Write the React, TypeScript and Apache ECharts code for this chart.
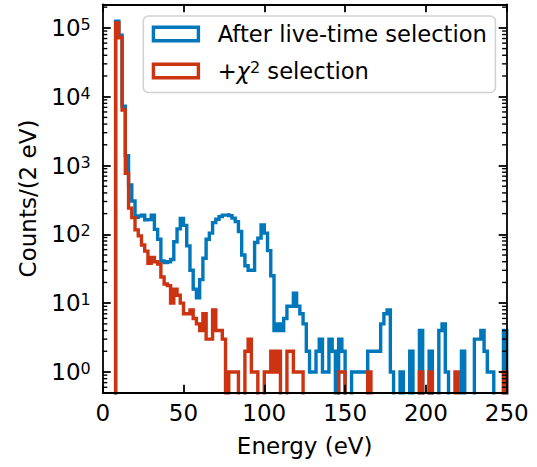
import React, { useEffect, useRef } from "react";
import * as echarts from "echarts";

// ---- data ----
const BIN_START = 0; // eV
const BIN_WIDTH = 2; // eV
const X_MIN = 0;
const X_MAX = 250;
const X_INTERVAL = 50;
const Y_MIN = 0.5;
const Y_MAX = 2.2e5;

const SERIES_NAMES = ["After live-time selection", "+χ² selection"];
const X_LABEL = "Energy (eV)";
const Y_LABEL = "Counts/(2 eV)";

// counts per 2 eV bin, bins starting at 0 eV
const liveTimeCounts = [
  0, 0, 0, 0, 125000, 78000, 7300, 1390, 520, 305,
  177, 185, 190, 163, 165, 190, 118, 85, 41, 39,
  40, 43, 78, 120, 170, 135, 68, 30, 16, 12,
  22, 45, 85, 104, 148, 166, 181, 190, 192, 187,
  172, 153, 110, 50, 35, 30, 30, 76, 88, 137,
  104, 58, 25, 4, 5, 4, 6, 9, 9, 14,
  9, 7, 5, 2, 1, 1, 2, 3, 1, 1,
  3, 2, 0, 3, 2, 0, 0, 1, 1, 1,
  1, 1, 2, 2, 2, 2, 5, 7, 8, 1,
  0, 0, 1, 0, 0, 2, 0, 0, 4, 0,
  0, 2, 0, 0, 4, 5, 1, 0, 0, 0,
  0, 2, 0, 0, 0, 3, 3, 4, 2, 1,
  1, 0, 0, 0, 4,
];

const chi2Counts = [
  0, 0, 0, 0, 118000, 72000, 6400, 770, 240, 175,
  116, 95, 70, 57, 38, 46, 40, 37, 24, 19,
  18, 10, 16, 13, 10, 7, 7, 8, 6, 5,
  4, 7, 3, 3, 8, 4, 4, 3, 0, 1,
  1, 1, 0, 0, 2, 3, 1, 1, 0, 0,
  1, 1, 2, 1, 2, 0, 0, 2, 2, 1,
  1, 1, 0, 0, 0, 0, 0, 0, 0, 0,
  0, 0, 0, 1, 1, 0, 0, 0, 0, 0,
  0, 0, 1, 0, 0, 0, 0, 0, 0, 0,
  0, 0, 0, 0, 0, 0, 0, 0, 1, 0,
  0, 1, 0, 0, 0, 0, 0, 0, 0, 1,
  0, 0, 0, 0, 0, 0, 0, 0, 0, 0,
  0, 0, 0, 0, 1,
];

const BLUE = "#0077BB";
const RED = "#CC3311";
const FONT = "DejaVu Sans";
const FLOOR = 0.1; // zero-count bins drawn below the axis bottom (clipped)

function stepPoints(counts: number[]) {
  const pts: number[][] = [];
  pts.push([BIN_START, FLOOR]);
  counts.forEach((c, i) => {
    pts.push([BIN_START + i * BIN_WIDTH, c > 0 ? c : FLOOR]);
  });
  const end = BIN_START + counts.length * BIN_WIDTH;
  const last = counts[counts.length - 1];
  pts.push([end, last > 0 ? last : FLOOR]);
  pts.push([end, FLOOR]);
  return pts;
}

function minorTickValues() {
  const out: number[] = [];
  for (let k = -1; k <= 5; k++) {
    for (let m = 2; m <= 9; m++) {
      const v = m * Math.pow(10, k);
      if (v > Y_MIN && v < Y_MAX) out.push(v);
    }
  }
  return out;
}

function isPow10(v: number) {
  const l = Math.log10(v);
  return Math.abs(l - Math.round(l)) < 1e-6;
}

export default function App() {
  const ref = useRef<HTMLDivElement>(null);

  useEffect(() => {
    if (!ref.current) return;
    const chart = echarts.init(ref.current, null, { renderer: "svg" });

    const axisLineStyle = { color: "#000", width: 1.8 };
    const majorTick = { show: true, inside: true, length: 8, lineStyle: { color: "#000", width: 1.8 } };
    const textBase = { fontFamily: FONT, color: "#000" };

    const option: any = {
      animation: false,
      backgroundColor: "#fff",
      grid: { left: 102.7, top: 4.3, width: 404, height: 388.4, containLabel: false },
      xAxis: [
        {
          type: "value",
          min: X_MIN,
          max: X_MAX,
          interval: X_INTERVAL,
          position: "bottom",
          z: 5,
          axisLine: { show: true, onZero: false, lineStyle: axisLineStyle },
          axisTick: majorTick,
          splitLine: { show: false },
          axisLabel: { ...textBase, fontSize: 23, margin: 8.5 },
          name: X_LABEL,
          nameLocation: "middle",
          nameGap: 42,
          nameTextStyle: { ...textBase, fontSize: 23 },
        },
        {
          type: "value",
          min: X_MIN,
          max: X_MAX,
          interval: X_INTERVAL,
          position: "top",
          z: 5,
          axisLine: { show: true, onZero: false, lineStyle: axisLineStyle },
          axisTick: majorTick,
          splitLine: { show: false },
          axisLabel: { show: false },
        },
      ],
      yAxis: [
        {
          type: "log",
          logBase: 10,
          min: Y_MIN,
          max: Y_MAX,
          position: "left",
          z: 5,
          axisLine: { show: true, onZero: false, lineStyle: axisLineStyle },
          axisTick: majorTick,
          splitLine: { show: false },
          axisLabel: {
            ...textBase,
            fontSize: 23,
            margin: 12,
            formatter: (v: number) =>
              isPow10(v) ? `{a|10}{s|${Math.round(Math.log10(v))}}` : "",
            rich: {
              a: { ...textBase, fontSize: 23, lineHeight: 23 },
              s: { ...textBase, fontSize: 16, lineHeight: 16, verticalAlign: "top" },
            },
          },
          name: Y_LABEL,
          nameLocation: "middle",
          nameGap: 63,
          nameRotate: 90,
          nameTextStyle: { ...textBase, fontSize: 23 },
        },
        {
          type: "log",
          logBase: 10,
          min: Y_MIN,
          max: Y_MAX,
          position: "right",
          z: 5,
          axisLine: { show: true, onZero: false, lineStyle: axisLineStyle },
          axisTick: majorTick,
          splitLine: { show: false },
          axisLabel: { show: false },
        },
      ],
      legend: {
        orient: "vertical",
        left: 143.3,
        top: 16,
        padding: [6.5, 8.5, 10, 8.4],
        itemGap: 14,
        itemWidth: 45,
        itemHeight: 13.5,
        selectedMode: false,
        backgroundColor: "#fff",
        borderColor: "#d2d2d2",
        borderWidth: 1.6,
        borderRadius: 5,
        z: 10,
        data: [
          {
            name: SERIES_NAMES[0],
            icon: "rect",
            itemStyle: { color: "rgba(0,0,0,0)", borderColor: BLUE, borderWidth: 3.4 },
          },
          {
            name: SERIES_NAMES[1],
            icon: "rect",
            itemStyle: { color: "rgba(0,0,0,0)", borderColor: RED, borderWidth: 3.4 },
          },
        ],
        formatter: (name: string) =>
          name === SERIES_NAMES[1]
            ? "{t|+}{i|χ}{s|2}{t| selection}"
            : `{t|${name}}`,
        textStyle: {
          ...textBase,
          fontSize: 22.6,
          lineHeight: 23,
          padding: [0, 0, 0, 14.3],
          rich: {
            t: { ...textBase, fontSize: 22.6, lineHeight: 23 },
            i: { ...textBase, fontSize: 22.6, lineHeight: 23, fontStyle: "italic" },
            s: { ...textBase, fontSize: 16, lineHeight: 16, verticalAlign: "top" },
          },
        },
      },
      series: [
        {
          name: SERIES_NAMES[0],
          type: "line",
          step: "end",
          showSymbol: false,
          symbol: "none",
          xAxisIndex: 0,
          yAxisIndex: 0,
          data: stepPoints(liveTimeCounts),
          lineStyle: { color: BLUE, width: 3.4, join: "miter", cap: "butt" },
          itemStyle: { color: BLUE },
          z: 2,
        },
        {
          name: SERIES_NAMES[1],
          type: "line",
          step: "end",
          showSymbol: false,
          symbol: "none",
          xAxisIndex: 0,
          yAxisIndex: 0,
          data: stepPoints(chi2Counts),
          lineStyle: { color: RED, width: 3.4, join: "miter", cap: "butt" },
          itemStyle: { color: RED },
          z: 3,
        },
        {
          type: "custom",
          silent: true,
          xAxisIndex: 0,
          yAxisIndex: 0,
          z: 6,
          data: minorTickValues().map((v) => [X_MIN, v]),
          encode: { x: 0, y: 1 },
          renderItem: (_params: any, api: any) => {
            const v = api.value(1);
            const pL = api.coord([X_MIN, v]);
            const pR = api.coord([X_MAX, v]);
            const st = { stroke: "#000", lineWidth: 1.4 };
            return {
              type: "group",
              children: [
                { type: "line", shape: { x1: pL[0], y1: pL[1], x2: pL[0] + 4.6, y2: pL[1] }, style: st },
                { type: "line", shape: { x1: pR[0] - 4.6, y1: pR[1], x2: pR[0], y2: pR[1] }, style: st },
              ],
            };
          },
        },
      ],
    };

    chart.setOption(option);
    return () => chart.dispose();
  }, []);

  return (
    <div
      ref={ref}
      style={{ position: "fixed", left: 0, top: 0, width: 537, height: 467, background: "#fff" }}
    />
  );
}
